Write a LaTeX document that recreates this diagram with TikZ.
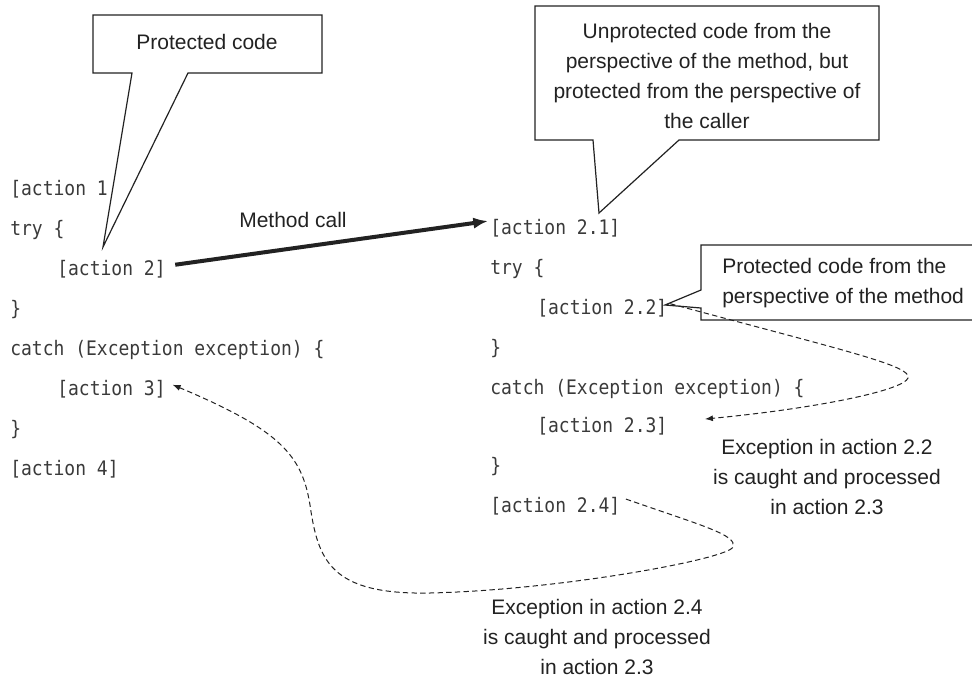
\documentclass[tikz,border=0pt]{standalone}
\usepackage{fontspec}
\setmainfont{Liberation Sans}
\newfontfamily\codefont[FakeStretch=0.9]{DejaVu Sans Mono}
\usetikzlibrary{arrows.meta}
\definecolor{ink}{HTML}{222222}
\definecolor{codeink}{HTML}{3A3A3A}
\begin{document}
\begin{tikzpicture}[x=0.75pt,y=0.75pt,
  code/.style={anchor=base west,inner sep=0pt,text=codeink,font=\codefont\fontsize{15}{18}\selectfont},
  label/.style={inner sep=0pt,text=ink,align=center,font=\fontsize{15.75}{22.5}\selectfont},
  callout/.style={draw=ink,fill=white,line width=0.9pt,line join=miter},
  exc/.style={draw=ink,line width=0.75pt,dash pattern=on 4pt off 2.5pt,-{Latex[length=6pt,width=4.5pt]}},
  callarrow/.style={draw=ink,line width=3pt,-{Latex[length=11pt,width=8.5pt]}}]
\useasboundingbox (0,0) rectangle (972,-683);
% left code
\node[code] (l1) at (10,-195) {[action 1};
\node[code] (l2) at (10,-235) {try \{};
\node[code] (l3) at (57,-275) {[action 2]};
\node[code] (l4) at (10,-315) {\}};
\node[code] (l5) at (10,-355) {catch (Exception exception) \{};
\node[code] (l6) at (57,-395) {[action 3]};
\node[code] (l7) at (10,-435) {\}};
\node[code] (l8) at (10,-475) {[action 4]};
% right code
\node[code] (r1) at (490,-234) {[action 2.1]};
\node[code] (r2) at (490,-274) {try \{};
\node[code] (r3) at (537,-314) {[action 2.2]};
\node[code] (r4) at (490,-354) {\}};
\node[code] (r5) at (490,-394) {catch (Exception exception) \{};
\node[code] (r6) at (537,-432) {[action 2.3]};
\node[code] (r7) at (490,-472) {\}};
\node[code] (r8) at (490,-512) {[action 2.4]};
% callout 1
\coordinate (t1) at (103,-247);
\draw[callout] (93,-15) -- (322,-15) -- (322,-73) -- (188,-73) -- (t1) -- (132,-73) -- (93,-73) -- cycle;
\node[label] (c1) at (207,-42) {Protected code};
% callout 2
\coordinate (t2) at (599,-213);
\draw[callout] (535,-6) -- (879,-6) -- (879,-140) -- (679,-140) -- (t2) -- (593,-140) -- (535,-140) -- cycle;
\node[label] (c2) at (707,-76) {Unprotected code from the\\perspective of the method, but\\protected from the perspective of\\the caller};
% callout 3
\coordinate (t3) at (665,-305);
\draw[callout] (701,-245) -- (995,-245) -- (995,-320) -- (701,-320) -- (701,-308) -- (t3) -- (701,-290) -- cycle;
\node[label,align=left,anchor=west] (c3) at (722,-283) {Protected code from the\\perspective of the method};
% method call
\node[label] (mc) at (293,-220) {Method call};
\draw[callarrow] ([xshift=7pt,yshift=3pt]l3.east) -- ([xshift=-1.5pt,yshift=5pt]r1.west);
% exception texts
\node[label] (e1) at (827,-477) {Exception in action 2.2\\is caught and processed\\in action 2.3};
\node[label] (e2) at (597,-637) {Exception in action 2.4\\is caught and processed\\in action 2.3};
% dashed exception flows
\coordinate (k1) at (908,-378);
\coordinate (k2) at (733,-547);
\coordinate (k3) at (430,-593);
\coordinate (k4) at (310,-505);
\draw[exc] ([xshift=2pt,yshift=3pt]r3.east) .. controls (850,-352) and (912,-366) .. (k1)
  .. controls (904,-390) and (820,-408) .. ([xshift=28pt,yshift=5pt]r6.east);
\draw[exc] ([xshift=4pt,yshift=5pt]r8.east) .. controls (700,-525) and (738,-535) .. (k2)
  .. controls (728,-559) and (560,-590) .. (k3)
  .. controls (330,-595) and (318,-560) .. (k4)
  .. controls (302,-455) and (280,-430) .. ([xshift=5pt,yshift=3pt]l6.east);
\end{tikzpicture}
\end{document}
